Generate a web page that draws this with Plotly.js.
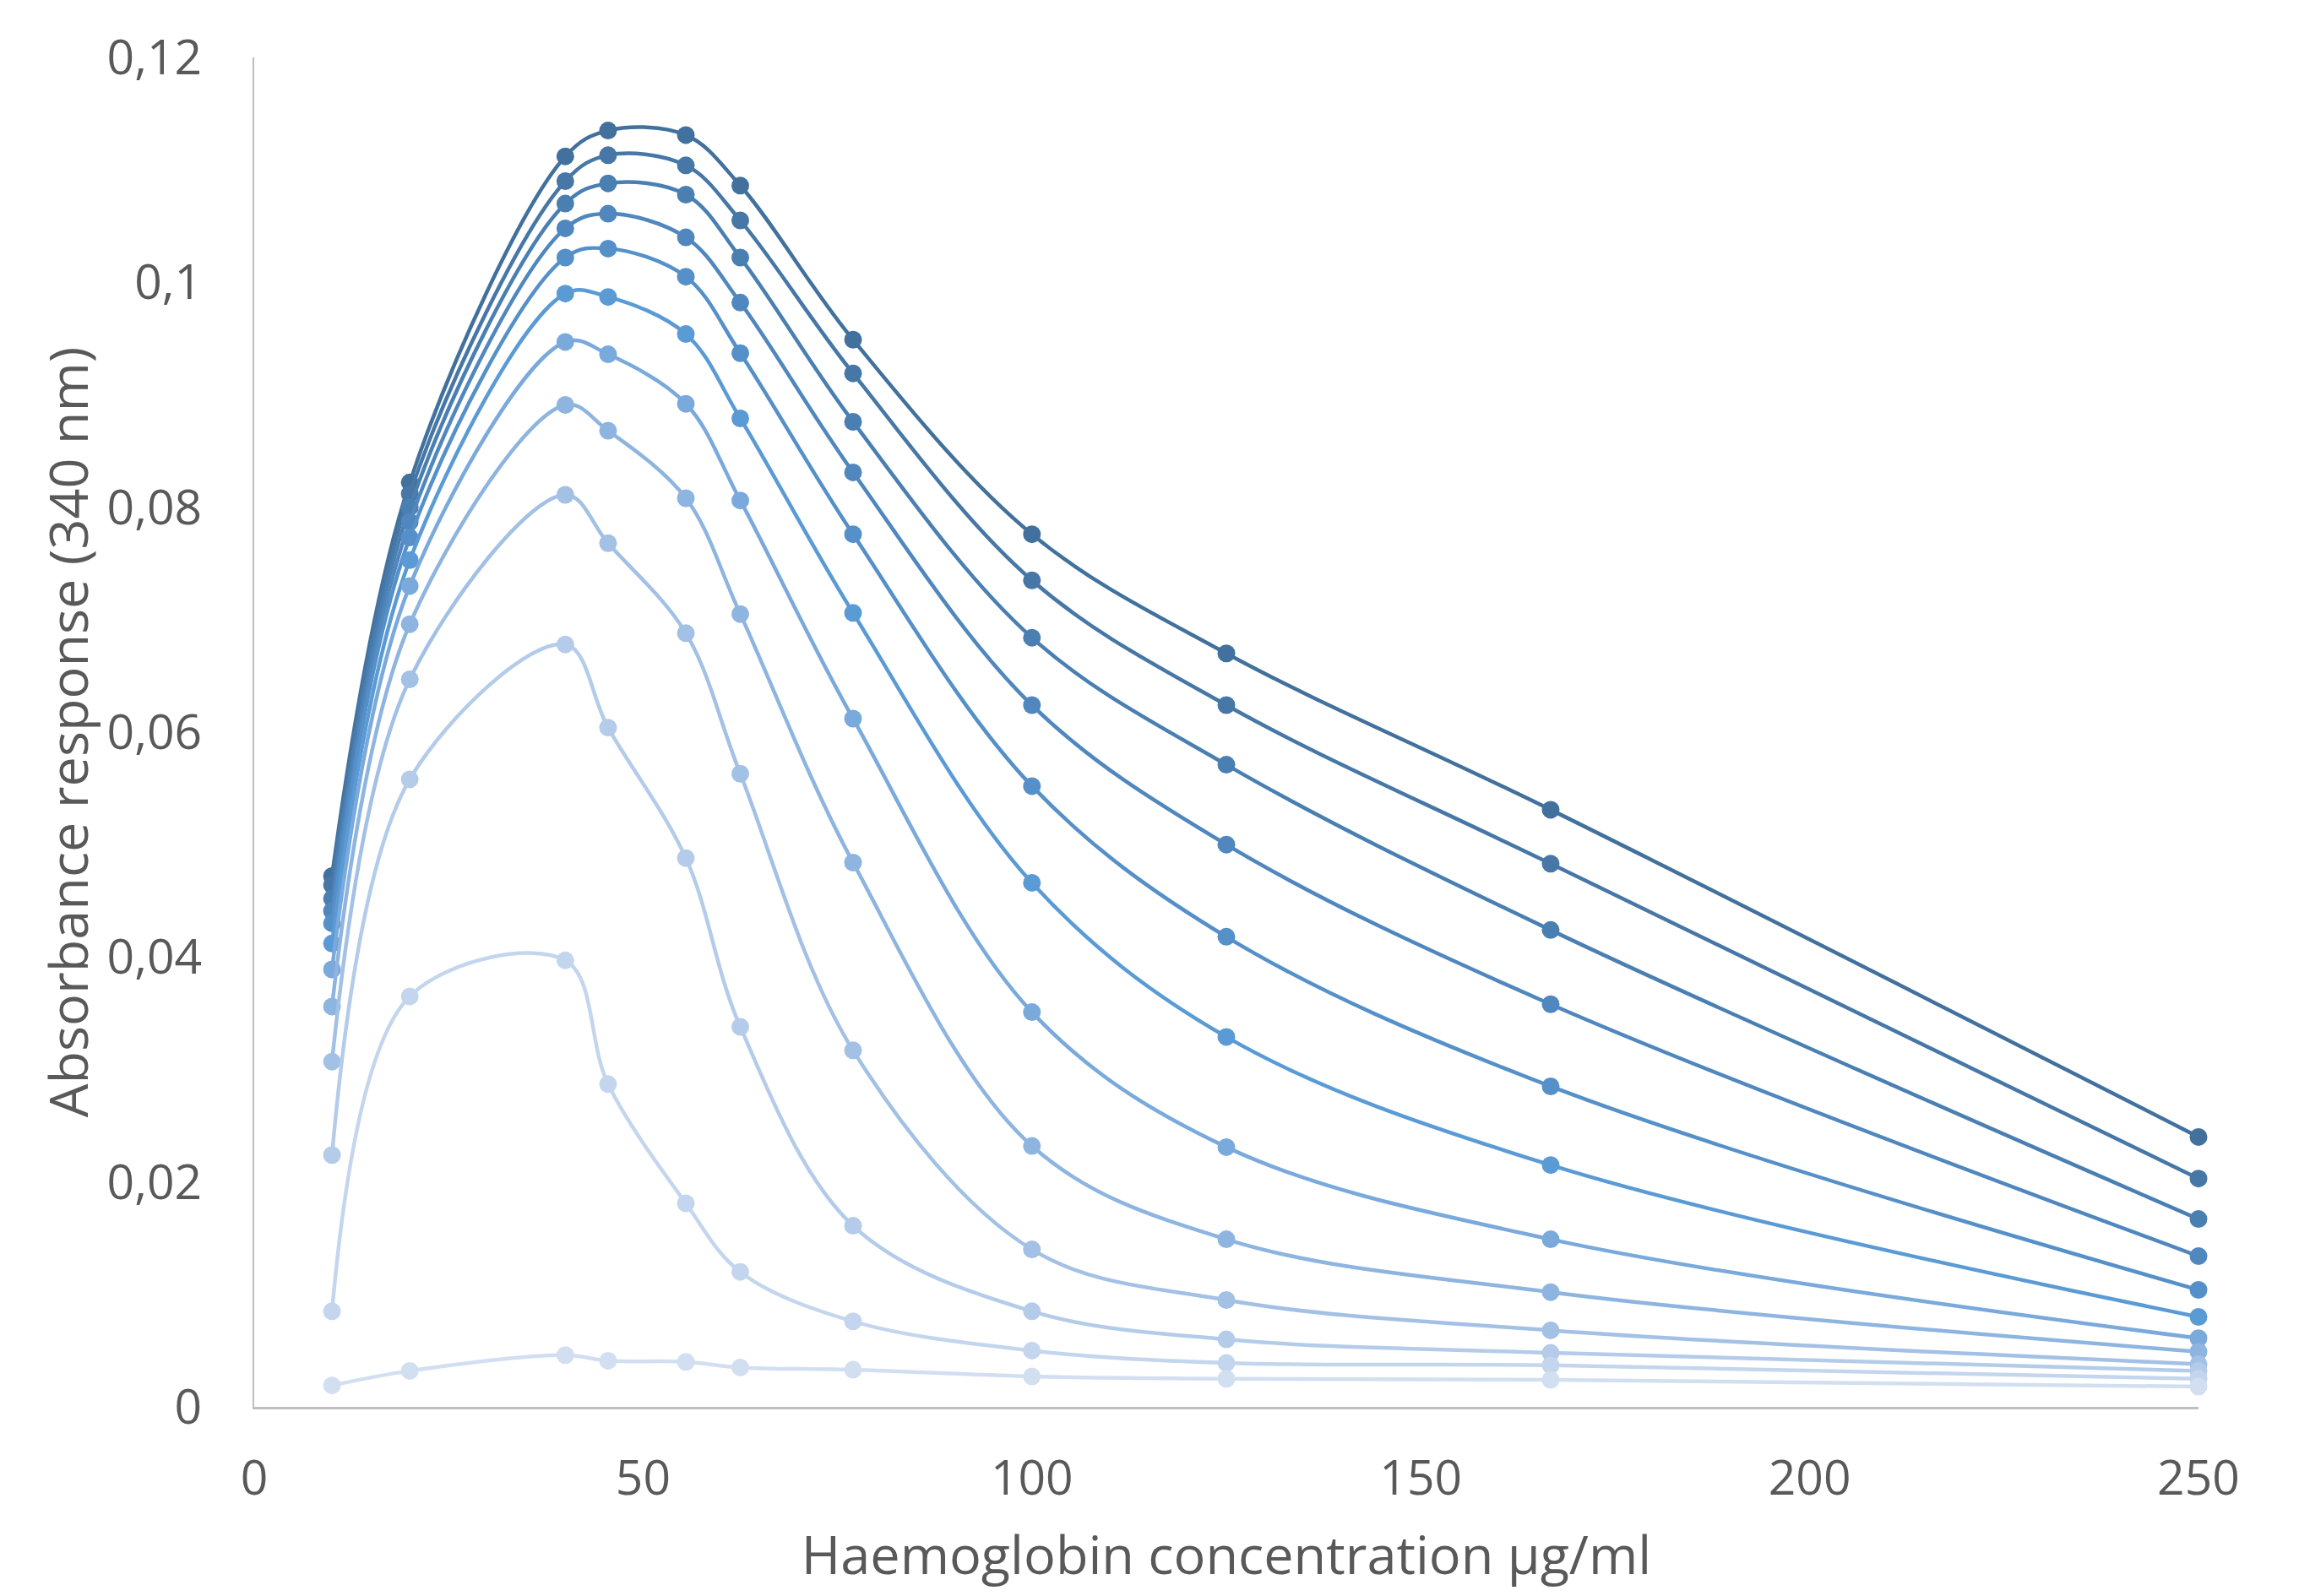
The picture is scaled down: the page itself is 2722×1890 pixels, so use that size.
<!DOCTYPE html>
<html><head><meta charset="utf-8">
<script src="https://cdn.plot.ly/plotly-3.0.1.min.js"></script>
<style>html,body{margin:0;padding:0;background:#fff}#chart{width:2722px;height:1890px}</style>
</head><body><div id="chart"></div>
<script>
const concentrations = [10, 20, 40, 45.5, 55.5, 62.5, 77, 100, 125, 166.7, 250];

const series1  = [0.0472, 0.0822, 0.1112, 0.1135, 0.1131, 0.1086, 0.0949, 0.0776, 0.0670, 0.0531, 0.0240];
const series2  = [0.0464, 0.0812, 0.1090, 0.1113, 0.1104, 0.1055, 0.0919, 0.0735, 0.0624, 0.0483, 0.0203];
const series3  = [0.0452, 0.0800, 0.1070, 0.1088, 0.1078, 0.1022, 0.0876, 0.0684, 0.0571, 0.0424, 0.0167];
const series4  = [0.0441, 0.0787, 0.1048, 0.1061, 0.1040, 0.0982, 0.0831, 0.0624, 0.0500, 0.0358, 0.0134];
const series5  = [0.0430, 0.0773, 0.1022, 0.1030, 0.1005, 0.0937, 0.0776, 0.0552, 0.0418, 0.0285, 0.0104];
const series6  = [0.0412, 0.0753, 0.0990, 0.0987, 0.0954, 0.0879, 0.0706, 0.0466, 0.0329, 0.0215, 0.0080];
const series7  = [0.0389, 0.0730, 0.0947, 0.0936, 0.0892, 0.0806, 0.0612, 0.0351, 0.0231, 0.0149, 0.0061];
const series8  = [0.0356, 0.0696, 0.0891, 0.0868, 0.0808, 0.0705, 0.0484, 0.0232, 0.0149, 0.0102, 0.0049];
const series9  = [0.0307, 0.0647, 0.0811, 0.0768, 0.0688, 0.0563, 0.0317, 0.0140, 0.0095, 0.0068, 0.0038];
const series10 = [0.0224, 0.0558, 0.0678, 0.0604, 0.0488, 0.0338, 0.0161, 0.0085, 0.0060, 0.0048, 0.0032];
const series11 = [0.0085, 0.0365, 0.0397, 0.0287, 0.0181, 0.0120, 0.0076, 0.0050, 0.0039, 0.0037, 0.0025];
const series12 = [0.0019, 0.0032, 0.0046, 0.0041, 0.0040, 0.0035, 0.0033, 0.0027, 0.0025, 0.0024, 0.0018];

const seriesColors = ['#41719C', '#4677A6', '#4A7FB2', '#4F87BE', '#5590C9', '#5B9BD5',
                      '#7AA9DC', '#8EB4E0', '#A3C0E5', '#B4CCE9', '#C4D6EE', '#D2DFF1'];

const yTickValues = [0, 0.02, 0.04, 0.06, 0.08, 0.1, 0.12];
const yTickLabels = ['0', '0,02', '0,04', '0,06', '0,08', '0,1', '0,12'];
const xTickValues = [0, 50, 100, 150, 200, 250];
const xTickLabels = ['0', '50', '100', '150', '200', '250'];
const xTitle = 'Haemoglobin concentration µg/ml';
const yTitle = 'Absorbance response (340 nm)';

const allSeries = [series1, series2, series3, series4, series5, series6,
                   series7, series8, series9, series10, series11, series12];

const traces = allSeries.map((ys, i) => ({
  type: 'scatter',
  mode: 'lines+markers',
  x: concentrations,
  y: ys,
  cliponaxis: false,
  line: {color: seriesColors[i], width: 4.5, shape: 'spline', smoothing: 1},
  marker: {color: seriesColors[i], size: 21},
  showlegend: false
}));

const textColor = '#595959';
const fontFamily = '"Open Sans", "Noto Sans", sans-serif';

const layout = {
  width: 2722, height: 1890,
  paper_bgcolor: '#ffffff', plot_bgcolor: '#ffffff',
  margin: {l: 301, r: 119, t: 68, b: 224, pad: 0},
  font: {family: fontFamily, color: textColor},
  xaxis: {
    range: [0, 250], showgrid: false, zeroline: false,
    showline: true, linecolor: '#BFBFBF', linewidth: 2.5,
    tickmode: 'array', tickvals: xTickValues, ticktext: xTickLabels,
    ticks: '', ticklabelstandoff: 33,
    tickfont: {size: 57, color: textColor, family: fontFamily},
    title: {text: xTitle, font: {size: 63, color: textColor, family: fontFamily}, standoff: 34}
  },
  yaxis: {
    range: [0, 0.12], showgrid: false, zeroline: false,
    showline: true, linecolor: '#BFBFBF', linewidth: 2.5,
    tickmode: 'array', tickvals: yTickValues, ticktext: yTickLabels,
    ticks: '', ticklabelstandoff: 48,
    tickfont: {size: 57, color: textColor, family: fontFamily},
    title: {text: yTitle, font: {size: 63, color: textColor, family: fontFamily}, standoff: 2}
  }
};

Plotly.newPlot('chart', traces, layout, {displayModeBar: false, staticPlot: true});
</script>
</body></html>
